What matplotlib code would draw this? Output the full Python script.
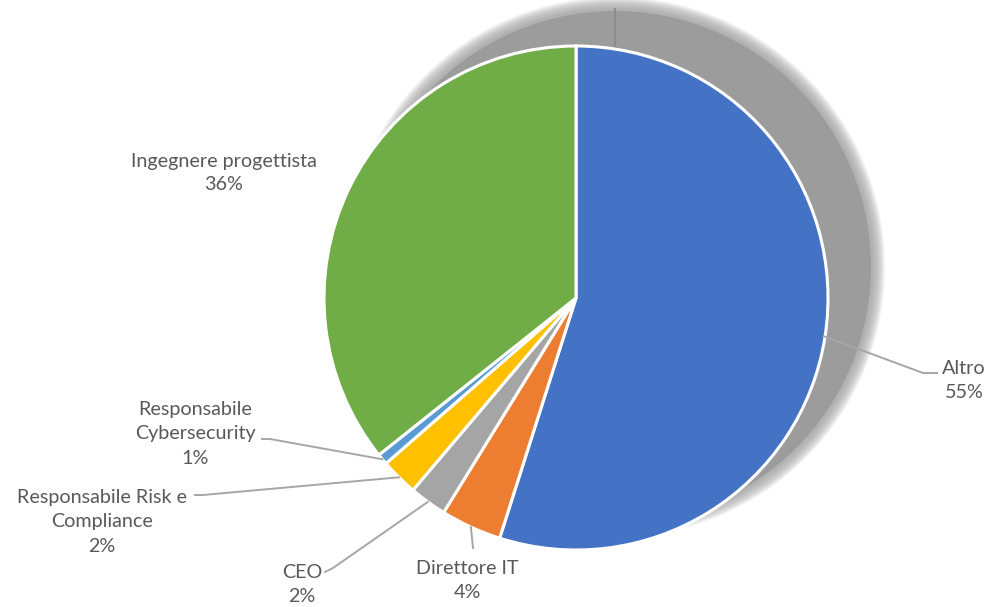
import numpy as np
import matplotlib.pyplot as plt
from matplotlib.patches import Circle

# dati
categorie = ["Altro", "Direttore IT", "CEO", "Responsabile Risk e\nCompliance",
             "Responsabile\nCybersecurity", "Ingegnere progettista"]
valori = [54.9, 3.9, 2.4, 2.4, 0.7, 35.7]
colori = ["#4472C4", "#ED7D31", "#A5A5A5", "#FFC000", "#5B9BD5", "#70AD47"]

W, H = 992, 607
cx, cy, r = 576, H - 298, 252     # centro torta (y dal basso)
sx, sy, sr = 615, H - 267, 258   # ombra

# posizioni etichette (pixel, y dall'alto) e percorsi delle linee guida
pos_testo = [(964, 380), (467, 580), (302, 585), (102, 522), (195, 434), (224, 173)]
guida = [
    [(923, 373), (937, 373)],
    [(473, 548)],
    [(333, 568), (325, 572)],
    [(203, 495), (195, 495)],
    [(270, 439), (262, 439)],
    None,
]

plt.rcParams['font.family'] = ['Lato', 'DejaVu Sans']
fig = plt.figure(figsize=(W / 100, H / 100), dpi=100)
ax = fig.add_axes([0, 0, 1, 1])

# ombra sfumata
for k in range(12, -1, -1):
    ax.add_patch(Circle((sx, sy), sr + k, color="#9c9c9c", alpha=0.1, lw=0, zorder=1))
ax.add_patch(Circle((sx, sy), sr - 2, color="#9c9c9c", lw=0, zorder=1))
ax.plot([sx, sx], [sy, sy + sr], color="#8c8c8c", lw=1.5, zorder=1)

wedges, _ = ax.pie(valori, colors=colori, startangle=90, counterclock=False,
                   center=(cx, cy), radius=r,
                   wedgeprops=dict(edgecolor="white", linewidth=2.2))
for w in wedges:
    w.set_zorder(3)

for w, nome, v, (tx, ty), g in zip(wedges, categorie, valori, pos_testo, guida):
    ax.text(tx, H - ty, f"{nome}\n{round(v):d}%", ha="center", va="center",
            fontsize=14.2, color="#595959", linespacing=1.5, zorder=5)
    if g is None:
        continue
    mid = np.deg2rad((w.theta1 + w.theta2) / 2)
    px = [cx + r * np.cos(mid)] + [p[0] for p in g]
    py = [cy + r * np.sin(mid)] + [H - p[1] for p in g]
    ax.plot(px, py, color="#a6a6a6", lw=1.4, zorder=4)

ax.set_xlim(0, W)
ax.set_ylim(0, H)
ax.set_aspect('equal')
ax.axis('off')

fig.savefig("out.png", dpi=100)
